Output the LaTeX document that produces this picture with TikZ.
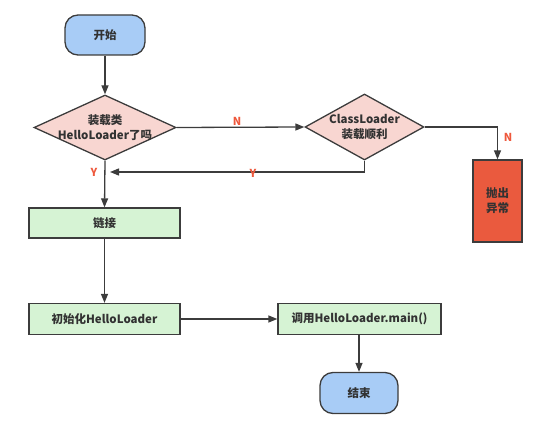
\documentclass[tikz,border=0pt]{standalone}
\usepackage{fontspec}
\setmainfont{Noto Sans CJK SC}
\usetikzlibrary{shapes.geometric,arrows.meta}

\begin{document}
\begin{tikzpicture}[x=1pt,y=-1pt,
    line/.style={draw=linegray, line width=1.3pt},
    arrow/.style={line, -{Triangle[length=9pt,width=7pt]}},
    terminal/.style={draw=linegray, line width=1.3pt, fill=startblue, rounded corners=13pt, text=textgray},
    decision/.style={diamond, draw=linegray, line width=1.3pt, fill=decpink, inner sep=0pt, text=textgray},
    process/.style={rectangle, draw=linegray, line width=1.3pt, fill=procgreen, text=textgray},
    answer/.style={text=answerred, font=\fontsize{11}{13}\selectfont\bfseries}]

    % Colors
    \definecolor{linegray}{RGB}{60,60,60} % lines and borders
    \definecolor{textgray}{RGB}{50,50,50} % text
    \definecolor{startblue}{RGB}{168,204,246} % start and end
    \definecolor{decpink}{RGB}{248,214,209} % decisions
    \definecolor{procgreen}{RGB}{214,243,212} % steps
    \definecolor{errorred}{RGB}{234,90,62} % exception
    \definecolor{answerred}{RGB}{238,88,60} % Y and N

    % Fix the picture size
    \useasboundingbox (0,0) rectangle (553,427);

    \fontsize{11.5}{15}\selectfont\bfseries

    % Start and the first check
    \node[terminal, minimum width=80pt, minimum height=40pt] (start) at (105,35) {开始};
    \node[decision, minimum width=142pt, minimum height=65pt,
        label={[align=center, text=textgray]center:装载类\\HelloLoader了吗}] (loaded) at (105,127.5) {};

    % Second check and the exception
    \node[decision, minimum width=119pt, minimum height=66pt,
        label={[align=center, text=textgray]center:ClassLoader\\装载顺利}] (classok) at (364.5,127) {};
    \node[rectangle, draw=linegray, line width=1.3pt, fill=errorred, text=textgray,
        minimum width=49pt, minimum height=82pt, align=center] (throw) at (497.5,201) {抛出\\异常};

    % Steps
    \node[process, minimum width=151pt, minimum height=30pt] (link) at (104.5,223) {链接};
    \node[process, minimum width=151pt, minimum height=31pt] (init) at (104.5,319) {初始化HelloLoader};
    \node[process, minimum width=163pt, minimum height=31pt] (call) at (359.5,319) {调用HelloLoader.main()};
    \node[terminal, minimum width=78pt, minimum height=41pt] (stop) at (359,393) {结束};

    % Connectors
    \draw[arrow] (start) -- (loaded.north);
    \draw[arrow] (loaded.east) -- (classok.west);
    \draw[arrow] (classok.east) -| (throw.north);
    \draw[arrow] (loaded.south) -- (link.north);
    \coordinate (join) at (105,172);
    \draw[arrow, shorten >=5pt] (classok.south) |- (join);
    \draw[arrow] (link) -- (init);
    \draw[arrow] (init) -- (call);
    \draw[arrow] (call.south -| stop.north) -- (stop.north);

    % Answers
    \node[answer] (noa) at (237,121) {N};
    \node[answer] (nob) at (508,137) {N};
    \node[answer] (yesa) at (94,172) {Y};
    \node[answer] (yesb) at (253,173) {Y};

\end{tikzpicture}
\end{document}
